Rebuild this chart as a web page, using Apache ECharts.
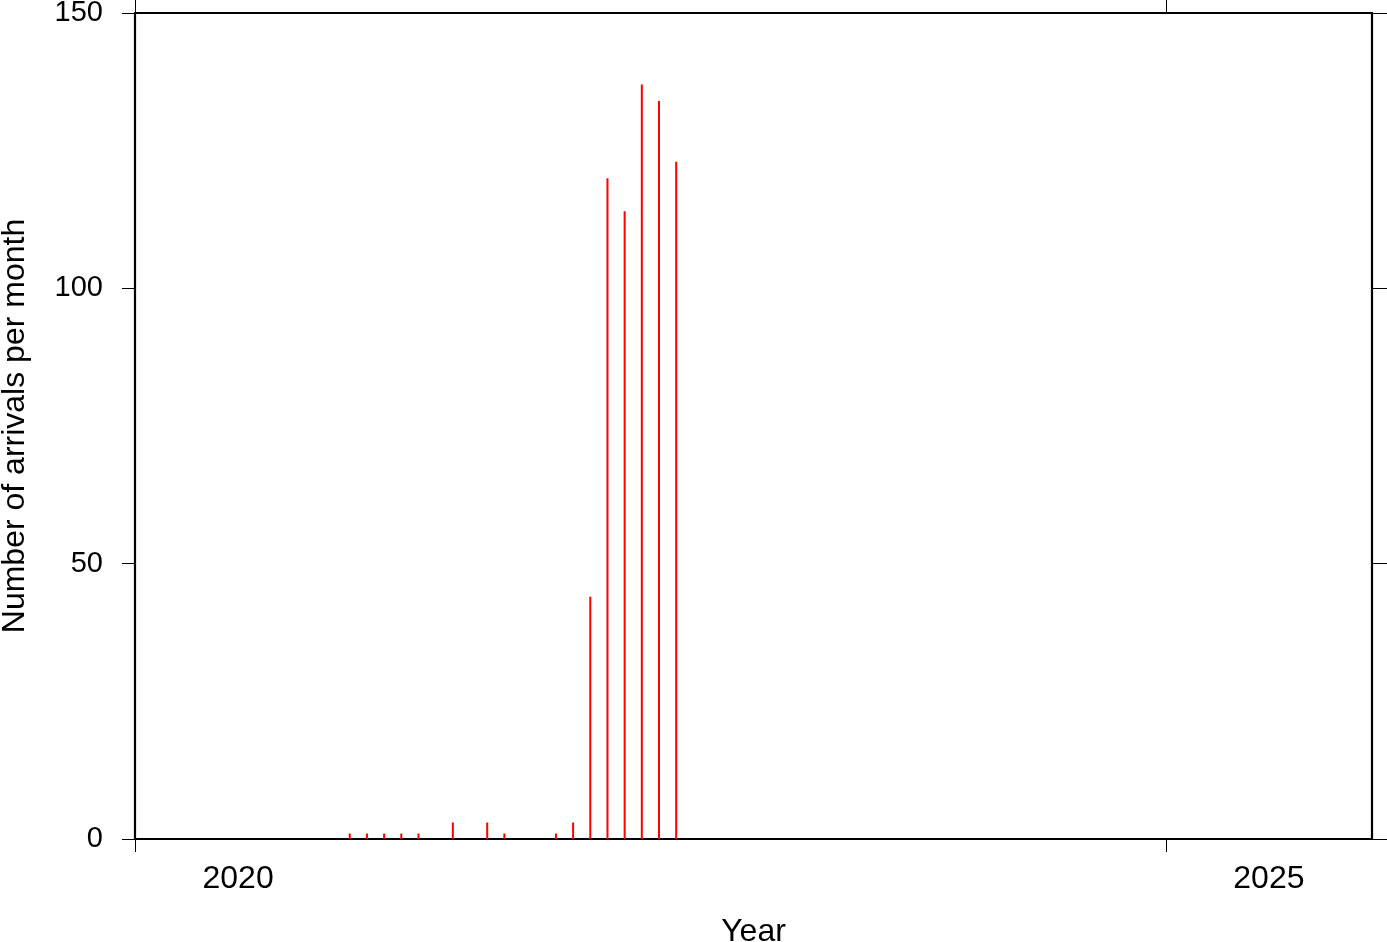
<!DOCTYPE html>
<html>
<head>
<meta charset="utf-8">
<script src="https://cdn.jsdelivr.net/npm/echarts@6/dist/echarts.min.js"></script>
<style>html,body{margin:0;padding:0;background:#fff;}#c{width:1387px;height:942px;}</style>
</head>
<body>
<div id="c"></div>
<script>
var months = ['2021-01','2021-02','2021-03','2021-04','2021-05','2021-07','2021-09','2021-10','2022-01','2022-02','2022-03','2022-04','2022-05','2022-06','2022-07','2022-08'];
var arrivals = [1,1,1,1,1,3,3,1,1,3,44,120,114,137,134,123];
var yearTicks = [2020, 2025];
var yTicks = [0, 50, 100, 150];

function monthPos(s) {
  var p = s.split('-');
  return +p[0] + (+p[1] - 0.5) / 12;
}
var barData = months.map(function (m, i) { return [monthPos(m), arrivals[i]]; });

var font = 'Liberation Sans, Helvetica, Arial, sans-serif';
var chart = echarts.init(document.getElementById('c'), null, {renderer: 'canvas'});
chart.setOption({
  animation: false,
  backgroundColor: '#fff',
  grid: {left: 135, right: 15, top: 13, bottom: 103, containLabel: false, outerBoundsMode: 'none'},
  xAxis: [{
    type: 'value', position: 'bottom', min: 2020, max: 2026,
    name: 'Year', nameLocation: 'middle', nameGap: 77,
    nameTextStyle: {fontFamily: font, fontSize: 32, color: '#000'},
    axisLine: {show: true, onZero: false, lineStyle: {color: '#000', width: 2.2}},
    axisTick: {show: true, length: 13, lineStyle: {color: '#000', width: 1}, customValues: yearTicks},
    axisLabel: {show: true, fontFamily: font, fontSize: 32, color: '#000', margin: 24,
      customValues: yearTicks.map(function (y) { return y + 0.5; }),
      formatter: function (v) { return String(Math.floor(v)); }},
    splitLine: {show: false}
  }, {
    type: 'value', position: 'top', min: 2020, max: 2026,
    axisLine: {show: true, onZero: false, lineStyle: {color: '#000', width: 2.2}},
    axisTick: {show: true, length: 13, lineStyle: {color: '#000', width: 1}, customValues: yearTicks},
    axisLabel: {show: false},
    splitLine: {show: false}
  }],
  yAxis: [{
    type: 'value', position: 'left', min: 0, max: 150, interval: 50,
    name: 'Number of arrivals per month', nameLocation: 'middle', nameGap: 104,
    nameTextStyle: {fontFamily: font, fontSize: 32, color: '#000'},
    axisLine: {show: true, onZero: false, lineStyle: {color: '#000', width: 2.2}},
    axisTick: {show: true, length: 13, lineStyle: {color: '#000', width: 1}},
    axisLabel: {show: true, fontFamily: font, fontSize: 29, color: '#000', margin: 32},
    splitLine: {show: false}
  }, {
    type: 'value', position: 'right', min: 0, max: 150, interval: 50,
    axisLine: {show: true, onZero: false, lineStyle: {color: '#000', width: 2.2}},
    axisTick: {show: true, length: 15, lineStyle: {color: '#000', width: 1}},
    axisLabel: {show: false},
    splitLine: {show: false}
  }],
  series: [{
    type: 'bar', xAxisIndex: 0, yAxisIndex: 0,
    data: barData, barWidth: 2,
    itemStyle: {color: '#ff0000'},
    silent: true
  }]
});
</script>
</body>
</html>
